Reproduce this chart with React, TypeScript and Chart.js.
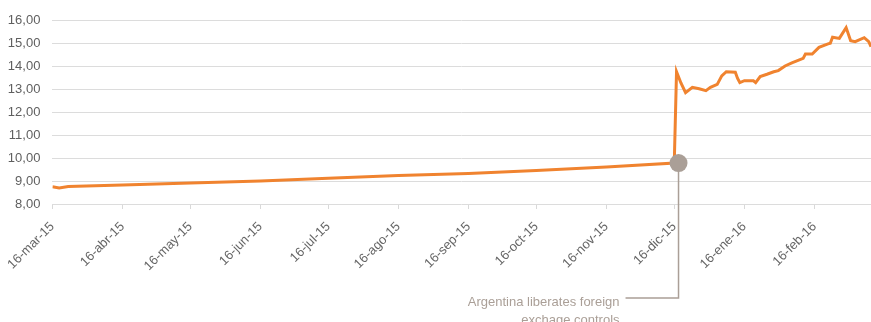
import React, { useEffect, useRef } from "react";
import { Chart, registerables } from "chart.js";

Chart.register(...registerables);

// Official exchange rate ARS per USD
const dates: string[] = [
  "2015-03-16", "2015-03-19", "2015-03-23", "2015-04-16", "2015-05-16", "2015-06-16",
  "2015-07-16", "2015-08-16", "2015-09-16", "2015-10-16", "2015-11-16", "2015-12-16",
  "2015-12-17", "2015-12-19", "2015-12-21", "2015-12-24", "2015-12-27", "2015-12-30",
  "2016-01-01", "2016-01-04", "2016-01-06", "2016-01-08", "2016-01-12", "2016-01-13",
  "2016-01-14", "2016-01-16", "2016-01-20", "2016-01-21", "2016-01-23", "2016-01-26",
  "2016-01-29", "2016-01-31", "2016-02-03", "2016-02-06", "2016-02-11", "2016-02-12",
  "2016-02-15", "2016-02-18", "2016-02-22", "2016-02-23", "2016-02-24", "2016-02-27",
  "2016-03-01", "2016-03-03", "2016-03-05", "2016-03-09", "2016-03-11", "2016-03-12",
];
const rates: number[] = [
  8.75, 8.70, 8.76, 8.83, 8.91, 9.0,
  9.12, 9.24, 9.33, 9.46, 9.61, 9.78,
  13.75, 13.25, 12.84, 13.07, 13.01, 12.93,
  13.07, 13.2, 13.57, 13.75, 13.73, 13.46,
  13.28, 13.36, 13.36, 13.28, 13.54, 13.64,
  13.75, 13.8, 14.0, 14.14, 14.33, 14.52,
  14.52, 14.81, 14.96, 14.99, 15.25, 15.2,
  15.67, 15.1, 15.06, 15.23, 15.06, 14.84,
];

const tickDates: string[] = [
  "2015-03-16", "2015-04-16", "2015-05-16", "2015-06-16", "2015-07-16", "2015-08-16",
  "2015-09-16", "2015-10-16", "2015-11-16", "2015-12-16", "2016-01-16", "2016-02-16",
];
const tickLabels: string[] = [
  "16-mar-15", "16-abr-15", "16-may-15", "16-jun-15", "16-jul-15", "16-ago-15",
  "16-sep-15", "16-oct-15", "16-nov-15", "16-dic-15", "16-ene-16", "16-feb-16",
];

const yMin = 8;
const yMax = 16;

const annotationDate = "2015-12-17";
const annotationValue = 9.78;
const annotationLines: string[] = ["Argentina liberates foreign", "exchage controls"];

const START = Date.UTC(2015, 2, 16);
function dayIndex(s: string): number {
  const [y, m, d] = s.split("-").map(Number);
  return Math.round((Date.UTC(y, m - 1, d) - START) / 86400000);
}

const ANNO_COLOR = "#aa9f97";

const annotationPlugin = {
  id: "argAnnotation",
  afterDatasetsDraw(chart: any) {
    const { ctx, scales, chartArea } = chart;
    const px = scales.x.getPixelForValue(dayIndex(annotationDate)) + 2;
    const py = scales.y.getPixelForValue(annotationValue);
    const elbowY = chartArea.bottom + 94;
    const elbowX = px - 53;
    ctx.save();
    ctx.strokeStyle = ANNO_COLOR;
    ctx.lineWidth = 1.5;
    ctx.beginPath();
    ctx.moveTo(px, py);
    ctx.lineTo(px, elbowY);
    ctx.lineTo(elbowX, elbowY);
    ctx.stroke();
    ctx.fillStyle = ANNO_COLOR;
    ctx.beginPath();
    ctx.arc(px, py, 9, 0, Math.PI * 2);
    ctx.fill();
    ctx.font = "13px 'Liberation Sans', Arial, sans-serif";
    ctx.textAlign = "right";
    ctx.textBaseline = "middle";
    annotationLines.forEach((line, i) => {
      ctx.fillText(line, elbowX - 6, elbowY + 4 + i * 18);
    });
    ctx.restore();
  },
};

export default function App() {
  const ref = useRef<HTMLCanvasElement | null>(null);

  useEffect(() => {
    document.body.style.margin = "0";
    const canvas = ref.current;
    if (!canvas) return;
    const tickDays = tickDates.map(dayIndex);
    const chart = new Chart(canvas, {
      type: "line",
      data: {
        datasets: [
          {
            data: dates.map((d, i) => ({ x: dayIndex(d), y: rates[i] })),
            borderColor: "#f0832f",
            borderWidth: 3,
            pointRadius: 0,
            tension: 0,
            fill: false,
          },
        ],
      },
      options: {
        animation: false,
        responsive: false,
        devicePixelRatio: 1,
        layout: { padding: { top: 20, right: 0, left: 0, bottom: 0 } },
        plugins: { legend: { display: false }, tooltip: { enabled: false } },
        scales: {
          x: {
            type: "linear",
            min: 0,
            max: dayIndex(dates[dates.length - 1]),
            afterBuildTicks(scale: any) {
              scale.ticks = tickDays.map((v) => ({ value: v }));
            },
            afterFit(scale: any) {
              scale.height = 118;
            },
            ticks: {
              autoSkip: false,
              maxRotation: 45,
              minRotation: 45,
              padding: 10,
              color: "#666",
              font: { family: "'Liberation Sans', Arial, sans-serif", size: 13 },
              callback: (_v: any, i: number) => tickLabels[i],
            },
            grid: {
              display: true,
              drawOnChartArea: false,
              drawTicks: true,
              tickLength: 5,
              color: "#d9d9d9",
            },
            border: { display: false },
          },
          y: {
            min: yMin,
            max: yMax,
            afterFit(scale: any) {
              scale.width = 52;
            },
            ticks: {
              stepSize: 1,
              padding: 12,
              color: "#5f5f5f",
              font: { family: "'Liberation Sans', Arial, sans-serif", size: 13 },
              callback: (v: any) => Number(v).toFixed(2).replace(".", ","),
            },
            grid: { color: "#dcdcdc", lineWidth: 1, drawTicks: false },
            border: { display: false },
          },
        },
      },
      plugins: [annotationPlugin],
    });
    return () => chart.destroy();
  }, []);

  return (
    <div style={{ width: 871, height: 322 }}>
      <canvas ref={ref} width={871} height={322} style={{ width: 871, height: 322 }} />
    </div>
  );
}
